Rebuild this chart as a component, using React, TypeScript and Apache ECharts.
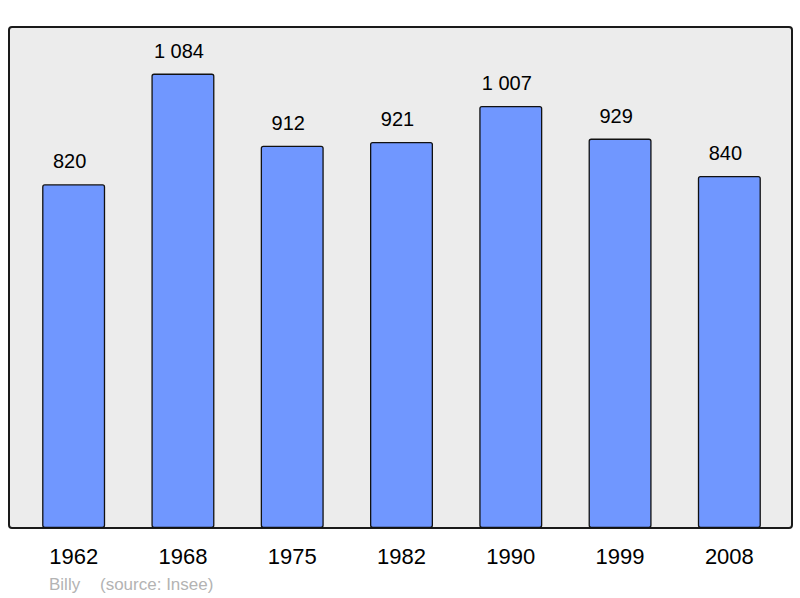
import React, { useEffect, useRef } from "react";
import * as echarts from "echarts";

const years = ["1962", "1968", "1975", "1982", "1990", "1999", "2008"];
const population = [820, 1084, 912, 921, 1007, 929, 840];
const footerTown = "Billy";
const footerSource = "(source: Insee)";

const fmt = (v: number) => {
  const s = String(v);
  return s.length > 3 ? s.slice(0, s.length - 3) + " " + s.slice(-3) : s;
};

export default function App() {
  const ref = useRef<HTMLDivElement>(null);
  useEffect(() => {
    if (!ref.current) return;
    const chart = echarts.init(ref.current, undefined, { renderer: "svg" });
    chart.setOption({
      animation: false,
      textStyle: { fontFamily: "Liberation Sans" },
      graphic: [
        {
          type: "rect",
          shape: { x: 9, y: 27, width: 783, height: 501, r: 3 },
          style: { fill: "#ececec", stroke: "#1a1a1a", lineWidth: 2 },
          z: -10,
        },
        {
          type: "text",
          x: 49,
          y: 584,
          style: {
            text: footerTown,
            fill: "#b3b3b3",
            font: "17px Liberation Sans",
            verticalAlign: "middle",
          },
        },
        {
          type: "text",
          x: 100,
          y: 584,
          style: {
            text: footerSource,
            fill: "#b3b3b3",
            font: "17px Liberation Sans",
            verticalAlign: "middle",
          },
        },
      ],
      grid: { left: 19, right: 16, top: 25, bottom: 70 },
      xAxis: {
        type: "category",
        data: years,
        axisLine: { show: false },
        axisTick: { show: false },
        axisLabel: {
          color: "#000",
          fontSize: 22,
          margin: 17,
          fontFamily: "Liberation Sans",
        },
      },
      yAxis: {
        type: "value",
        min: 0,
        max: 1200,
        show: false,
        splitLine: { show: false },
      },
      series: [
        {
          type: "bar",
          data: population,
          barWidth: 63,
          itemStyle: {
            color: "#7097ff",
            borderColor: "#111",
            borderWidth: 1.3,
            borderRadius: 2,
          },
          label: {
            show: true,
            position: "top",
            distance: 13,
            offset: [-4, 0],
            color: "#000",
            fontSize: 20,
            fontFamily: "Liberation Sans",
            formatter: (p: any) => fmt(p.value),
          },
        },
      ],
    });
    return () => chart.dispose();
  }, []);
  return <div ref={ref} style={{ width: 800, height: 598, position: "absolute", left: 0, top: 0 }} />;
}
